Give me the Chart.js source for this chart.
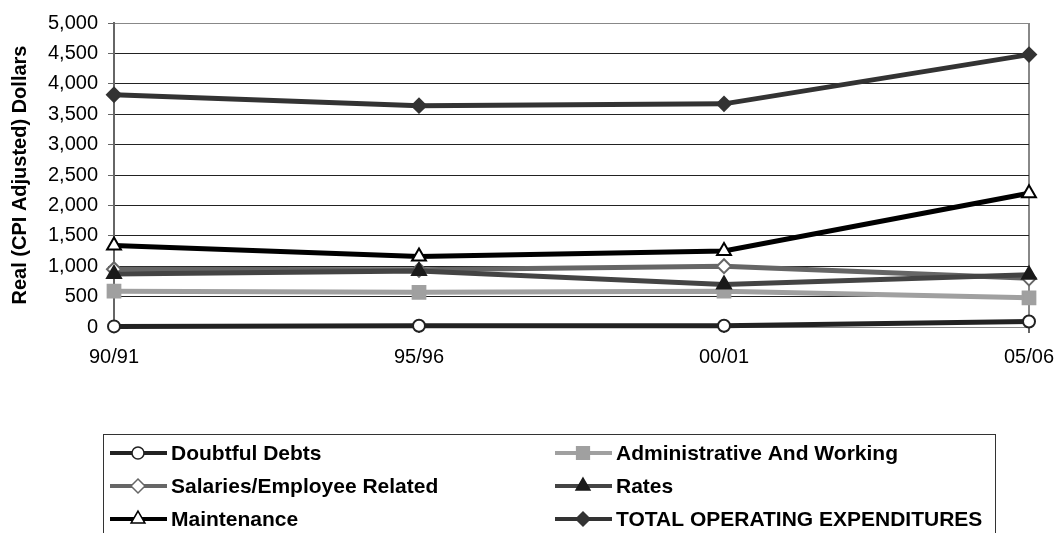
<!DOCTYPE html>
<html>
<head>
<meta charset="utf-8">
<script src="https://cdn.jsdelivr.net/npm/chart.js@4"></script>
<style>
  html, body { margin: 0; padding: 0; background: #fff; }
  #wrap { width: 1059px; height: 533px; position: relative; }
</style>
</head>
<body>
<div id="wrap"><canvas id="expChart"></canvas></div>
<script>
// Data
const periods = ['90/91', '95/96', '00/01', '05/06'];
const doubtfulDebts = [10, 20, 20, 90];
const adminWorking = [590, 570, 590, 480];
const salariesEmployee = [950, 940, 1000, 800];
const rates = [870, 920, 700, 860];
const maintenance = [1340, 1160, 1250, 2200];
const totalOperating = [3820, 3640, 3670, 4480];
const yTicks = [0, 500, 1000, 1500, 2000, 2500, 3000, 3500, 4000, 4500, 5000];

const FONT = 'Liberation Sans, Arial, sans-serif';

function series(label, data, color, style, order) {
    return {
        label: label,
        data: data,
        borderColor: color,
        borderWidth: 5,
        pointStyle: style.shape,
        pointRadius: style.radius,
        pointHoverRadius: style.radius,
        pointBackgroundColor: style.fill,
        pointBorderColor: style.border,
        pointBorderWidth: 2,
        tension: 0,
        fill: false,
        clip: false,
        order: order
    };
}

const datasets = [
    series('Doubtful Debts', doubtfulDebts, '#222222', { shape: 'circle', radius: 6, fill: '#ffffff', border: '#222222' }, 5),
    series('Administrative And Working', adminWorking, '#a0a0a0', { shape: 'rect', radius: 9, fill: '#a0a0a0', border: '#a0a0a0' }, 4),
    series('Salaries/Employee Related', salariesEmployee, '#666666', { shape: 'rectRot', radius: 7, fill: '#ffffff', border: '#666666' }, 3),
    series('Rates', rates, '#444444', { shape: 'triangle', radius: 8, fill: '#1a1a1a', border: '#1a1a1a' }, 2),
    series('Maintenance', maintenance, '#000000', { shape: 'triangle', radius: 8, fill: '#ffffff', border: '#000000' }, 1),
    series('TOTAL OPERATING EXPENDITURES', totalOperating, '#333333', { shape: 'rectRot', radius: 7, fill: '#333333', border: '#333333' }, 0)
];

// boxed two-column legend under the plot, drawn from the datasets
const boxLegend = {
    id: 'boxLegend',
    afterDraw(chart) {
        const ctx = chart.ctx;
        const left = 103, top = 434, right = 995;
        const cols = [110, 555];
        const rows = [453, 486, 519];
        ctx.save();
        ctx.strokeStyle = '#333';
        ctx.lineWidth = 1;
        ctx.strokeRect(left + 0.5, top + 0.5, right - left, 120);
        chart.data.datasets.forEach((ds, i) => {
            const x = cols[i % 2];
            const y = rows[Math.floor(i / 2)];
            ctx.strokeStyle = ds.borderColor;
            ctx.lineWidth = 4;
            ctx.beginPath();
            ctx.moveTo(x, y);
            ctx.lineTo(x + 57, y);
            ctx.stroke();
            ctx.fillStyle = ds.pointBackgroundColor;
            ctx.strokeStyle = ds.pointBorderColor;
            ctx.lineWidth = 1.5;
            Chart.helpers.drawPoint(ctx, {
                pointStyle: ds.pointStyle,
                radius: ds.pointRadius,
                rotation: 0,
                borderWidth: 1.5
            }, x + 28, y);
            ctx.fillStyle = '#000';
            ctx.font = 'bold 21px ' + FONT;
            ctx.textBaseline = 'middle';
            ctx.textAlign = 'left';
            ctx.fillText(ds.label, x + 61, y + 1);
        });
        ctx.restore();
    }
};

new Chart(document.getElementById('expChart').getContext('2d'), {
    type: 'line',
    data: { labels: periods, datasets: datasets },
    options: {
        responsive: true,
        maintainAspectRatio: false,
        animation: false,
        events: [],
        layout: {
            autoPadding: false,
            padding: { left: 0, top: 23, right: 30, bottom: 161 }
        },
        plugins: {
            legend: { display: false },
            tooltip: { enabled: false }
        },
        scales: {
            x: {
                offset: false,
                ticks: {
                    color: '#000',
                    font: { family: FONT, size: 20 },
                    maxRotation: 0,
                    padding: 12
                },
                grid: {
                    color: c => (c.index === periods.length - 1 ? '#888' : 'rgba(0,0,0,0)'),
                    lineWidth: 2,
                    tickLength: 6,
                    tickColor: '#666'
                },
                border: { color: '#888', width: 1 },
                afterFit(scale) {
                    scale.height = 45;
                    scale.paddingLeft = 0;
                    scale.paddingRight = 0;
                }
            },
            y: {
                min: 0,
                max: 5000,
                afterBuildTicks(scale) { scale.ticks = yTicks.map(v => ({ value: v })); },
                ticks: {
                    color: '#000',
                    font: { family: FONT, size: 20 },
                    padding: 10,
                    callback: v => v.toLocaleString('en-US')
                },
                grid: {
                    color: c => (c.tick && c.tick.value === 5000 ? '#888' : '#222'),
                    lineWidth: 1,
                    tickLength: 6,
                    tickColor: '#666'
                },
                border: { color: '#666', width: 2 },
                title: {
                    display: true,
                    text: 'Real (CPI Adjusted) Dollars',
                    color: '#000',
                    font: { family: FONT, size: 20, weight: 'bold' },
                    padding: { top: 8, bottom: 0 }
                },
                afterFit(scale) {
                    scale.width = 114;
                    scale.paddingTop = 0;
                    scale.paddingBottom = 0;
                }
            }
        }
    },
    plugins: [boxLegend]
});
</script>
</body>
</html>
